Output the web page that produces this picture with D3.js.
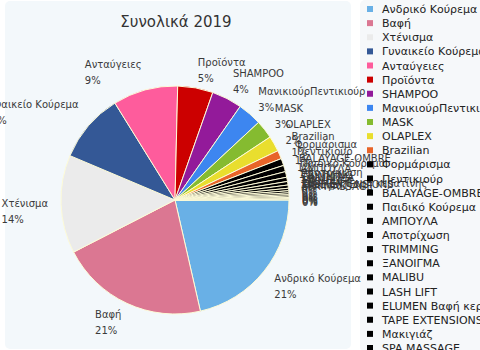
<!DOCTYPE html>
<html><head><meta charset="utf-8">
<script src="https://cdn.jsdelivr.net/npm/d3@7"></script>
<style>
html,body{margin:0;padding:0;background:#fff;}
svg{display:block;}
</style></head>
<body>
<svg id="chart" width="480" height="350"></svg>
<script>
const title = "Συνολικά 2019";
const categories = ["Ανδρικό Κούρεμα","Βαφή","Χτένισμα","Γυναικείο Κούρεμα","Ανταύγειες","Προϊόντα","SHAMPOO","ΜανικιούρΠεντικιούρ","MASK","OLAPLEX","Brazilian","Φορμάρισμα","Πεντικιούρ","BALAYAGE-OMBRE","Παιδικό Κούρεμα","ΑΜΠΟΥΛΑ","Αποτρίχωση","TRIMMING","ΞΑΝΟΙΓΜΑ","MALIBU","LASH LIFT","ELUMEN Βαφή κερατίνης","TAPE EXTENSIONS","Μακιγιάζ","SPA MASSAGE"];
const values = [21.4,21.0,13.9,9.8,9.2,5.0,4.3,3.4,2.6,2.2,1.2,1.0,0.9,0.8,0.6,0.5,0.45,0.35,0.3,0.25,0.2,0.2,0.15,0.1,0.1];
const palette = ["#69b0e6","#db7792","#ebebeb","#345896","#fe5c9c","#cc0000","#931a9a","#3d86f0","#85bb30","#e9de2e","#e86429"];

const svg = d3.select("#chart");
const font = "DejaVu Sans";

// panels
svg.append("rect").attr("x",5).attr("y",1).attr("width",346).attr("height",348).attr("rx",5).attr("fill","#f3f8fb");
svg.append("rect").attr("x",360).attr("y",0).attr("width",130).attr("height",352).attr("rx",5).attr("fill","#f6f8fa");

svg.append("text").attr("x",176).attr("y",27).attr("text-anchor","middle")
  .attr("font-family",font).attr("font-size",15).attr("fill","#333").text(title);

const color = i => i < palette.length ? palette[i] : "#000000";
const total = d3.sum(values);
const cx = 175, cy = 200, r = 114, R = 127;

const pie = d3.pie().sort(null).startAngle(Math.PI/2).endAngle(Math.PI/2 + 2*Math.PI);
const arcs = pie(values);
const arc = d3.arc().innerRadius(0).outerRadius(r);

const g = svg.append("g").attr("transform",`translate(${cx},${cy})`);
g.selectAll("path").data(arcs).join("path")
  .attr("d",arc).attr("fill",(d,i)=>color(i))
  .attr("stroke","#fdfbd8").attr("stroke-width",1).attr("stroke-linejoin","round");

const lg = svg.append("g");
arcs.forEach((a,i)=>{
  const th = (a.startAngle + a.endAngle)/2;
  const px = cx + R*Math.sin(th), py = cy - R*Math.cos(th);
  const upper = Math.cos(th) > 0;
  const nameY = upper ? py - 13 : py - 1;
  const t = lg.append("g");
  const n = t.append("text").attr("font-family",font).attr("font-size",10).attr("fill","#3a3a3a")
    .attr("y",nameY+3.5).text(categories[i]);
  const p = t.append("text").attr("font-family",font).attr("font-size",10).attr("fill","#3a3a3a")
    .attr("y",nameY+16+3.5).text(Math.round(values[i]/total*100)+"%");
  const w = Math.max(n.node().getComputedTextLength(), p.node().getComputedTextLength());
  const left = Math.sin(th) >= 0 ? px : px - w;
  n.attr("x",left); p.attr("x",left);
});

// legend
const ly = d3.scaleLinear().domain([0, categories.length-1]).range([9, 348]);
const leg = svg.append("g");
categories.forEach((c,i)=>{
  leg.append("rect").attr("x",367).attr("y",ly(i)-3).attr("width",6).attr("height",6).attr("fill",color(i));
  leg.append("text").attr("x",382).attr("y",ly(i)+4).attr("font-family",font).attr("font-size",11)
    .attr("fill","#222").text(c);
});
</script>
</body></html>
